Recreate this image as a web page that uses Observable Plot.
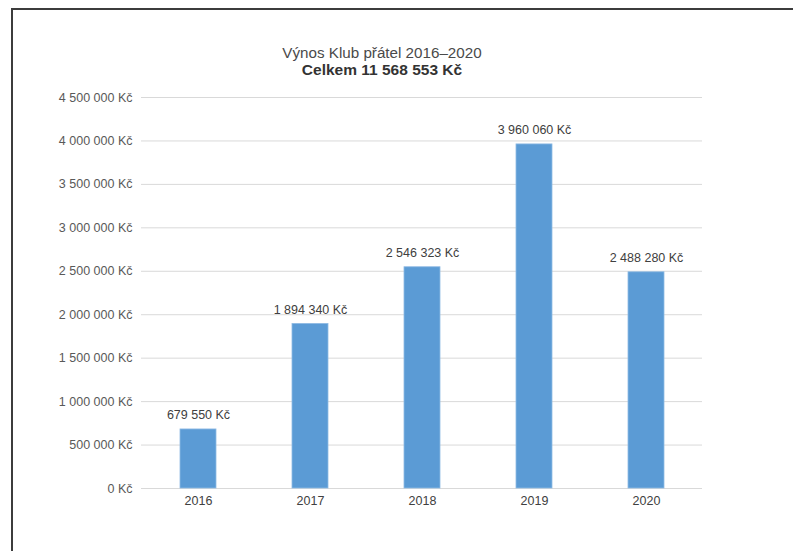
<!DOCTYPE html>
<html>
<head>
<meta charset="utf-8">
<script src="https://cdn.jsdelivr.net/npm/d3@7"></script>
<script src="https://cdn.jsdelivr.net/npm/@observablehq/plot@0.6"></script>
<style>
  html, body { margin: 0; padding: 0; background: #fff; }
  body { width: 793px; height: 551px; position: relative; overflow: hidden; font-family: "Liberation Sans", Arial, sans-serif; }
  #frame { position: absolute; left: 11px; top: 8px; width: 820px; height: 600px; border-top: 2px solid #3c3c3c; border-left: 2px solid #3c3c3c; }
  #title, #subtitle { position: absolute; left: 182px; width: 400px; text-align: center; color: #4a4a4a; font-size: 15.2px; line-height: 17px; white-space: nowrap; }
  #title { top: 44px; }
  #subtitle { top: 61px; font-weight: bold; color: #333; font-size: 15.5px; }
  #chart { position: absolute; left: 0; top: 0; }
</style>
</head>
<body>
<div id="frame"></div>
<div id="title">Výnos Klub přátel 2016–2020</div>
<div id="subtitle">Celkem 11 568 553 Kč</div>
<div id="chart"></div>
<script>
const years = ["2016", "2017", "2018", "2019", "2020"];
const values = [679550, 1894340, 2546323, 3960060, 2488280];
const yTicks = [0, 500000, 1000000, 1500000, 2000000, 2500000, 3000000, 3500000, 4000000, 4500000];

const data = years.map((y, i) => ({year: y, value: values[i]}));
const fmt = v => d3.format(",")(v).replace(/,/g, " ") + " Kč";

const chart = Plot.plot({
  width: 793,
  height: 551,
  marginLeft: 141,
  marginRight: 91,
  marginTop: 97,
  marginBottom: 63,
  style: {fontFamily: "Liberation Sans, Arial, sans-serif", fontSize: "12.5px", background: "transparent"},
  x: {domain: years, paddingInner: 0.68, paddingOuter: 0.34, label: null},
  y: {domain: [0, 4500000], label: null},
  marks: [
    Plot.gridY(yTicks, {stroke: "#d9d9d9", strokeOpacity: 1, strokeWidth: 1}),
    Plot.axisY({ticks: yTicks, tickFormat: fmt, tickSize: 0, tickPadding: 9, color: "#595959", label: null, fontSize: 12.5}),
    Plot.axisX({tickSize: 0, tickPadding: 8, color: "#404040", label: null, fontSize: 12.5}),
    Plot.barY(data, {x: "year", y: "value", fill: "#5b9bd5", stroke: "#8fbbe4", strokeWidth: 0.8}),
    Plot.text(data, {x: "year", y: "value", text: d => fmt(d.value), dy: -14, fill: "#404040", fontSize: 12.5})
  ]
});
document.getElementById("chart").appendChild(chart);
</script>
</body>
</html>
